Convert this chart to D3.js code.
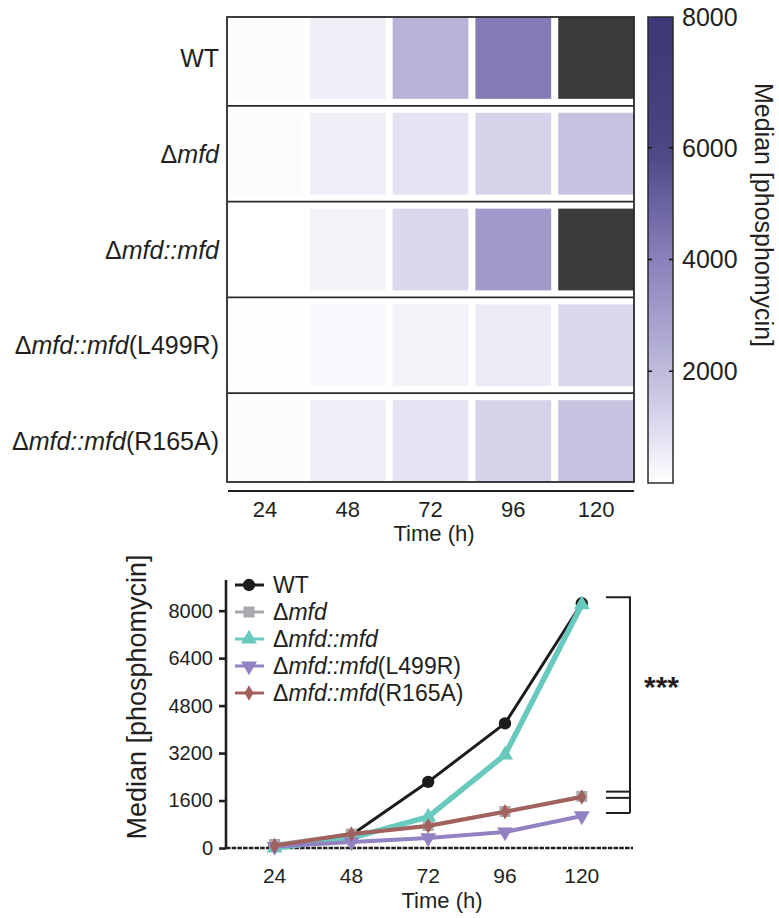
<!DOCTYPE html>
<html lang="en">
<head>
<meta charset="UTF-8">
<title>Phosphomycin heatmap and time course</title>
<script src="https://cdn.jsdelivr.net/npm/d3@7"></script>
<style>
  body { margin: 0; background: #fff; }
  svg { display: block; font-family: "Liberation Sans", Arial, Helvetica, sans-serif; }
</style>
</head>
<body>
<script>
// strains, as [upright prefix, italic part, upright suffix]
const strains = ['WT', 'mfd', 'mfd::mfd', 'L499R', 'R165A']
const strainLabels = [
  ['WT', '', ''],
  ['\u0394', 'mfd', ''],
  ['\u0394', 'mfd::mfd', ''],
  ['\u0394', 'mfd::mfd', '(L499R)'],
  ['\u0394', 'mfd::mfd', '(R165A)']
]
const times = [24, 48, 72, 96, 120]

// median phosphomycin per time point
const wtValues     = [80, 440, 2230, 4200, 8250]
const mfdValues    = [120, 470, 760, 1230, 1740]
const compValues   = [0, 340, 1050, 3140, 8200]
const l499rValues  = [50, 200, 340, 540, 1080]
const r165aValues  = [80, 470, 740, 1220, 1720]
const seriesValues = [wtValues, mfdValues, compValues, l499rValues, r165aValues]

const colorStops  = [0, 1000, 2000, 4000, 6000, 8000]
const colorRange  = ['#ffffff', '#dcdaee', '#bebbdb', '#8881bb', '#4a4583', '#3e3a7a']
const colorbarTicks = [2000, 4000, 6000]
const colorbarTop = 8000
const overColor = '#3b3b3b'

const lineYTicks = [0, 1600, 3200, 4800, 6400, 8000]
const lineColors = ['#1c1c1c', '#a9a9ad', '#68cabe', '#9282c2', '#a1615d']
const lineWidths = [3, 3.5, 5.5, 4, 4]
const symbols = [d3.symbolCircle, d3.symbolSquare, d3.symbolTriangle, d3.symbolTriangle, d3.symbolDiamond]
const symbolSizes = [120, 120, 110, 110, 70]
const symbolRotate = [0, 0, 0, 180, 0]

// significance bracket ends (data units)
const bracketTop = 8450
const bracketEnds = [1900, 1690, 1180]

const width = 779
const height = 918
const ink = '#231f20'

const svg = d3.select('body').append('svg')
  .attr('width', width)
  .attr('height', height)

svg.append('rect').attr('width', width).attr('height', height).attr('fill', '#fff')

function labelText(sel, parts, size) {
  sel.append('tspan').text(parts[0])
  if (parts[1]) sel.append('tspan').attr('font-style', 'italic').text(parts[1])
  if (parts[2]) sel.append('tspan').text(parts[2])
  sel.style('font-size', size + 'px').attr('fill', ink)
}

// ---------- heatmap ----------
const hx = d3.scaleBand().domain(times).range([227, 634]).paddingInner(0.085)
const hy = d3.scaleBand().domain(strains).range([17, 482]).paddingInner(0.146)

const color = d3.scaleLinear().domain(colorStops).range(colorRange).clamp(true)
const cellColor = v => v > colorbarTop ? overColor : color(v)

const cells = []
strains.forEach((s, i) => {
  times.forEach((t, j) => cells.push({ strain: s, time: t, value: seriesValues[i][j] }))
})

svg.append('g').selectAll('rect')
  .data(cells)
  .enter()
  .append('rect')
  .attr('x', d => hx(d.time))
  .attr('y', d => hy(d.strain))
  .attr('width', hx.bandwidth())
  .attr('height', hy.bandwidth())
  .attr('fill', d => cellColor(d.value))

// frame: outer box plus a line between rows
const frame = svg.append('g').attr('stroke', '#2b2b2b').attr('fill', 'none')
frame.append('rect')
  .attr('x', 227).attr('y', 17)
  .attr('width', 634 - 227).attr('height', 482 - 17)
  .attr('stroke-width', 1.8)
strains.slice(1).forEach(s => {
  const yy = hy(s) - (hy.step() - hy.bandwidth()) / 2
  frame.append('line')
    .attr('x1', 227).attr('x2', 634)
    .attr('y1', yy).attr('y2', yy)
    .attr('stroke-width', 1.8)
})

strainLabels.forEach((parts, i) => {
  const t = svg.append('text')
    .attr('x', 219)
    .attr('y', hy(strains[i]) + hy.bandwidth() / 2)
    .attr('text-anchor', 'end')
    .attr('dominant-baseline', 'central')
  labelText(t, parts, 25)
})

// x axis of the heatmap
svg.append('line')
  .attr('x1', 228).attr('x2', 634)
  .attr('y1', 491).attr('y2', 491)
  .attr('stroke', ink).attr('stroke-width', 2.2)

svg.append('g').selectAll('text')
  .data(times)
  .enter()
  .append('text')
  .attr('x', d => hx(d) + hx.bandwidth() / 2)
  .attr('y', 517)
  .attr('text-anchor', 'middle')
  .style('font-size', '22px')
  .attr('fill', ink)
  .text(d => d)

svg.append('text')
  .attr('x', 434).attr('y', 541)
  .attr('text-anchor', 'middle')
  .style('font-size', '22px')
  .attr('fill', ink)
  .text('Time (h)')

// colour bar
const cbX = 648, cbW = 25
const cby = d3.scaleLinear().domain([0, 8340]).range([483, 17])

const defs = svg.append('defs')
const grad = defs.append('linearGradient')
  .attr('id', 'cbGrad')
  .attr('x1', 0).attr('y1', 1).attr('x2', 0).attr('y2', 0)
d3.range(0, 8341, 417).forEach(v => {
  grad.append('stop').attr('offset', v / 8340).attr('stop-color', color(v))
})

svg.append('rect')
  .attr('x', cbX).attr('y', cby(8340))
  .attr('width', cbW).attr('height', cby(0) - cby(8340))
  .attr('fill', 'url(#cbGrad)')
  .attr('stroke', '#2b2b2b').attr('stroke-width', 1.5)

colorbarTicks.forEach(v => {
  svg.append('line').attr('x1', cbX).attr('x2', cbX + 4).attr('y1', cby(v)).attr('y2', cby(v))
    .attr('stroke', '#111').attr('stroke-width', 1.5)
  svg.append('line').attr('x1', cbX + cbW - 4).attr('x2', cbX + cbW).attr('y1', cby(v)).attr('y2', cby(v))
    .attr('stroke', '#111').attr('stroke-width', 1.5)
})

svg.append('g').selectAll('text')
  .data(colorbarTicks.concat([colorbarTop]))
  .enter()
  .append('text')
  .attr('x', 682)
  .attr('y', d => d === colorbarTop ? cby.range()[1] : cby(d))
  .attr('dominant-baseline', 'central')
  .style('font-size', '25px')
  .attr('fill', ink)
  .text(d => d)

svg.append('text')
  .attr('transform', 'translate(755,215) rotate(90)')
  .attr('text-anchor', 'middle')
  .style('font-size', '25px')
  .attr('fill', ink)
  .text('Median [phosphomycin]')

// ---------- line chart ----------
const x = d3.scaleLinear().domain([6, 136]).range([217, 633])
const y = d3.scaleLinear().domain([0, 9000]).range([848, 581])

const yAxis = d3.axisLeft(y).tickValues(lineYTicks).tickSize(7).tickPadding(6).tickFormat(d3.format('d'))
const gy = svg.append('g').attr('transform', 'translate(226,0)').call(yAxis)
gy.attr('font-size', null).attr('font-family', null)
gy.select('.domain').attr('stroke', ink).attr('stroke-width', 2.6)
  .attr('d', `M0,${y(0)}V580`)
gy.selectAll('.tick line').attr('stroke', ink).attr('stroke-width', 2.6)
gy.selectAll('.tick text').style('font-size', '20px').attr('fill', ink)

// dotted baseline
svg.append('line')
  .attr('x1', 226).attr('x2', 633)
  .attr('y1', y(0)).attr('y2', y(0))
  .attr('stroke', ink).attr('stroke-width', 2.6)
  .attr('stroke-dasharray', '4.5,1.2')

svg.append('g').selectAll('text')
  .data(times)
  .enter()
  .append('text')
  .attr('x', d => x(d))
  .attr('y', 883)
  .attr('text-anchor', 'middle')
  .style('font-size', '21px')
  .attr('fill', ink)
  .text(d => d)

svg.append('text')
  .attr('x', 442).attr('y', 908)
  .attr('text-anchor', 'middle')
  .style('font-size', '22px')
  .attr('fill', ink)
  .text('Time (h)')

svg.append('text')
  .attr('transform', 'translate(146,697) rotate(-90)')
  .attr('text-anchor', 'middle')
  .style('font-size', '27px')
  .attr('fill', ink)
  .text('Median [phosphomycin]')

const line = d3.line().x((d, i) => x(times[i])).y(d => y(d))

seriesValues.forEach((vals, k) => {
  const g = svg.append('g')
  g.append('path')
    .attr('d', line(vals))
    .attr('fill', 'none')
    .attr('stroke', lineColors[k])
    .attr('stroke-width', lineWidths[k])
    .attr('stroke-linejoin', 'round')
  g.selectAll('path.pt')
    .data(vals)
    .enter()
    .append('path')
    .attr('class', 'pt')
    .attr('d', d3.symbol().type(symbols[k]).size(symbolSizes[k]))
    .attr('transform', (d, i) => `translate(${x(times[i])},${y(d)}) rotate(${symbolRotate[k]})`)
    .attr('fill', lineColors[k])
})

// legend
strainLabels.forEach((parts, k) => {
  const ly = 585 + k * 27
  svg.append('line')
    .attr('x1', 235).attr('x2', 264).attr('y1', ly).attr('y2', ly)
    .attr('stroke', lineColors[k]).attr('stroke-width', 3)
  svg.append('path')
    .attr('d', d3.symbol().type(symbols[k]).size(symbolSizes[k]))
    .attr('transform', `translate(249,${ly}) rotate(${symbolRotate[k]})`)
    .attr('fill', lineColors[k])
  const t = svg.append('text')
    .attr('x', 273).attr('y', ly)
    .attr('dominant-baseline', 'central')
  labelText(t, parts, 23)
})

// significance bracket
const br = svg.append('g').attr('stroke', ink).attr('stroke-width', 2).attr('fill', 'none')
br.append('path')
  .attr('d', `M606,${y(bracketTop)}H630V${y(d3.min(bracketEnds))}`)
bracketEnds.forEach(v => {
  br.append('line').attr('x1', 606).attr('x2', 630).attr('y1', y(v)).attr('y2', y(v))
})

svg.append('text')
  .attr('x', 644).attr('y', 697)
  .style('font-size', '30px')
  .attr('font-weight', 'bold')
  .attr('fill', ink)
  .text('***')
</script>
</body>
</html>
